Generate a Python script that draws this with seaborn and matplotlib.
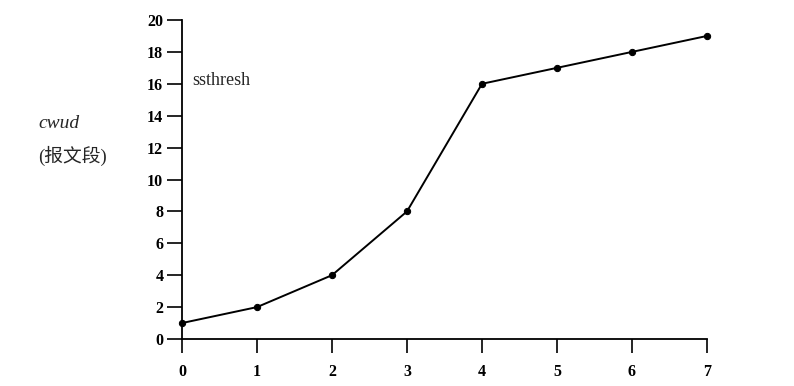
import matplotlib
matplotlib.use("Agg")
import matplotlib.pyplot as plt
import seaborn as sns
import pandas as pd

rounds = [0, 1, 2, 3, 4, 5, 6, 7]
cwnd = [1, 2, 4, 8, 16, 17, 18, 19]
yticks = [0, 2, 4, 6, 8, 10, 12, 14, 16, 18, 20]

sns.set_style("white")
plt.rcParams['font.family'] = ['Liberation Serif', 'Noto Sans CJK SC']

df = pd.DataFrame({"round": rounds, "cwnd": cwnd})

fig = plt.figure(figsize=(7.94, 3.86), dpi=100)
ax = fig.add_axes([182/794, 1 - 339/386, (707-182)/794, (339-20)/386])
sns.lineplot(data=df, x="round", y="cwnd", ax=ax, color="black", linewidth=1.4,
             marker="o", markersize=4.5, markeredgecolor="black", clip_on=False)
ax.set_xlim(0, 7)
ax.set_ylim(0, 20)
ax.set_xticks(rounds)
ax.set_yticks(yticks)
ax.set_xticklabels([str(r) for r in rounds], fontsize=11.5, fontweight="bold")
ax.set_yticklabels([str(t) for t in yticks], fontsize=11.5, fontweight="bold")
ax.set_xlabel("")
ax.set_ylabel("")
for s in ["top", "right"]:
    ax.spines[s].set_visible(False)
for s in ["left", "bottom"]:
    ax.spines[s].set_color("black")
    ax.spines[s].set_linewidth(1.3)
ax.tick_params(axis="y", left=True, direction="out", length=10.5, width=1.2, pad=3, colors="black")
ax.tick_params(axis="x", bottom=True, direction="out", length=10, width=1.2, pad=8, colors="black")

ax.text(0.133, 16.2, "ssthresh", fontsize=13, va="center", ha="left")
fig.text(38/794, 1 - 123/386, "cwud", fontsize=14, style="italic", va="center", ha="left")
fig.text(38/794, 1 - 156/386, "(报文段)", fontsize=13.5, va="center", ha="left")

fig.savefig("out.png", dpi=100)
